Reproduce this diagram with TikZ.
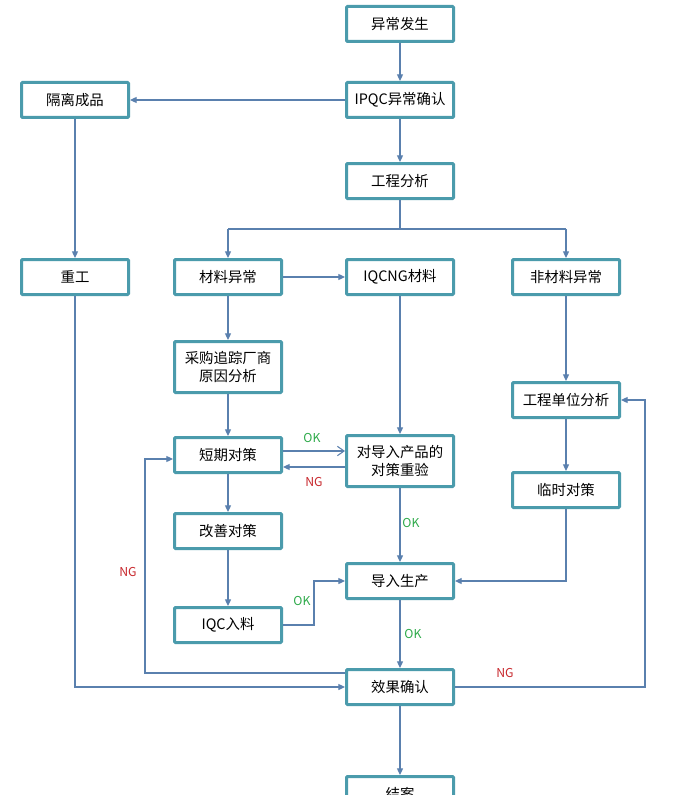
\documentclass[tikz,border=0pt]{standalone}
\usepackage{fontspec}
\newfontfamily\cjk{Noto Sans CJK SC}
\usetikzlibrary{arrows.meta}
\definecolor{boxc}{RGB}{75,155,172}
\definecolor{linec}{RGB}{90,128,174}
\definecolor{okc}{RGB}{46,170,74}
\definecolor{ngc}{RGB}{200,40,45}
\begin{document}
\begin{tikzpicture}[x=0.75pt,y=-0.75pt,
  box/.style={draw=boxc,line width=2.25pt,fill=white,rounded corners=0.8pt,
    minimum width=80.25pt,minimum height=26.25pt,inner sep=1pt,align=center,
    font=\cjk\fontsize{10.8pt}{13.5pt}\selectfont},
  tallbox/.style={box,minimum height=38.25pt},
  conn/.style={draw=linec,line width=0.9pt,-{Triangle[length=5pt,width=4.5pt]}},
  openconn/.style={draw=linec,line width=0.9pt,-{Straight Barb[length=5pt,width=7pt,line width=0.8pt]}},
  plain/.style={draw=linec,line width=0.9pt},
  oklab/.style={text=okc,font=\cjk\fontsize{9.2pt}{11pt}\selectfont,inner sep=0pt},
  nglab/.style={text=ngc,font=\cjk\fontsize{9.2pt}{11pt}\selectfont,inner sep=0pt}]
\useasboundingbox (0,0) rectangle (686,795);
\clip (0,0) rectangle (686,795);
\fill[white] (0,0) rectangle (686,795);

\node[box] (occur) at (400,24) {异常发生};
\node[box] (ipqc) at (400,100) {IPQC异常确认};
\node[box] (iso) at (75,100) {隔离成品};
\node[box] (eng) at (400,181) {工程分析};
\node[box] (rework) at (75,277) {重工};
\node[box] (mat) at (228,277) {材料异常};
\node[box] (iqcng) at (400,277) {IQCNG材料};
\node[box] (nonmat) at (566,277) {非材料异常};
\node[tallbox] (purch) at (228,367) {采购追踪厂商\\原因分析};
\node[box] (engunit) at (566,400) {工程单位分析};
\node[box] (short) at (228,455) {短期对策};
\node[tallbox] (reverify) at (400,461) {对导入产品的\\对策重验};
\node[box] (temp) at (566,490) {临时对策};
\node[box] (improve) at (228,531) {改善对策};
\node[box] (prod) at (400,581) {导入生产};
\node[box] (iqcin) at (228,625) {IQC入料};
\node[box] (effect) at (400,687) {效果确认};
\node[box] (close) at (400,794) {结案};

\coordinate (split) at (eng.south |- 0,229);
\coordinate (rtop) at (645,687);
\coordinate (ltop) at (145,673);

\draw[conn] (occur) -- (ipqc);
\draw[conn] (ipqc) -- (iso);
\draw[conn] (ipqc) -- (eng);
\draw[plain] (eng.south) -- (split);
\draw[plain] (mat.north |- split) -- (nonmat.north |- split);
\draw[conn] (mat.north |- split) -- (mat.north);
\draw[conn] (nonmat.north |- split) -- (nonmat.north);
\draw[conn] (iso) -- (rework);
\draw[conn] (mat) -- (iqcng);
\draw[conn] (mat) -- (purch);
\draw[conn] (nonmat) -- (engunit);
\draw[conn] (purch) -- (short);
\draw[openconn] (short.east |- 0,451) -- (reverify.west |- 0,451);
\draw[conn] (reverify.west |- 0,467) -- (short.east |- 0,467);
\draw[conn] (iqcng) -- (reverify);
\draw[conn] (engunit) -- (temp);
\draw[conn] (short) -- (improve);
\draw[conn] (reverify) -- (prod);
\draw[conn] (temp.south) |- (prod.east);
\draw[conn] (improve) -- (iqcin);
\draw[conn] (iqcin.east) -- (314,625) |- (prod.west);
\draw[conn] (prod) -- (effect);
\draw[conn] (rework.south) |- (effect.west);
\draw[conn] (effect.west |- ltop) -- (ltop) |- (short.west |- 0,459);
\draw[conn] (effect.east) -- (rtop) |- (engunit.east);
\draw[conn] (effect) -- (close);

\node[oklab] (l1) at (312,438) {OK};
\node[nglab] (l2) at (314,482) {NG};
\node[oklab] (l3) at (411,523) {OK};
\node[oklab] (l4) at (302,601) {OK};
\node[oklab] (l5) at (413,634) {OK};
\node[nglab] (l6) at (128,572) {NG};
\node[nglab] (l7) at (505,673) {NG};
\end{tikzpicture}
\end{document}
